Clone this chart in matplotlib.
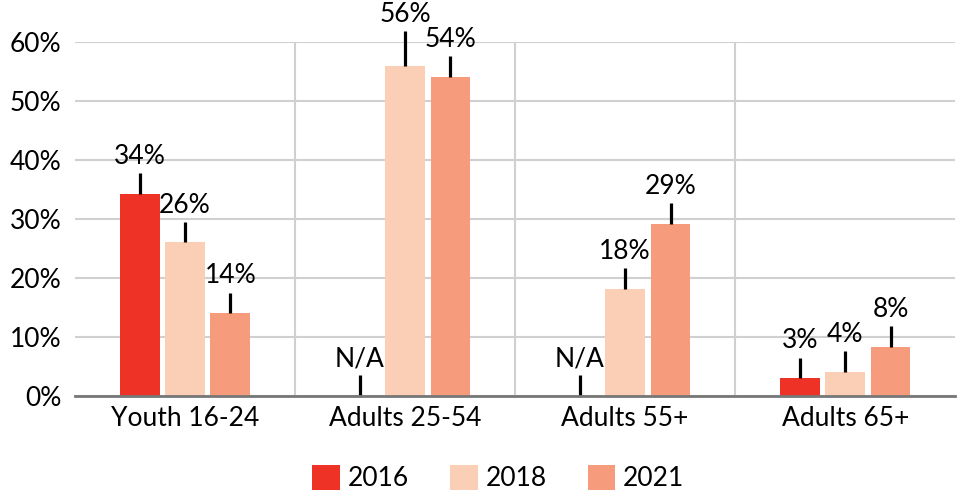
import matplotlib
matplotlib.use("Agg")
import matplotlib.pyplot as plt
import numpy as np
from matplotlib.patches import Patch

plt.rcParams['font.family'] = ['Lato', 'DejaVu Sans']

categories = ["Youth 16-24", "Adults 25-54", "Adults 55+", "Adults 65+"]
years = ["2016", "2018", "2021"]
v2016 = [34.2, None, None, 3.0]
v2018 = [26.0, 56.0, 18.1, 4.1]
v2021 = [14.0, 54.1, 29.2, 8.3]
err2016 = [3.5, 3.5, 3.5, 3.5]
err2018 = [3.5, 5.8, 3.5, 3.5]
err2021 = [3.5, 3.5, 3.5, 3.5]
yticks = [0, 10, 20, 30, 40, 50, 60]
colors = ["#EE3226", "#FACFB6", "#F79B7D"]

series = [v2016, v2018, v2021]
errs = [err2016, err2018, err2021]

fig = plt.figure(figsize=(9.62, 4.93), dpi=100)
ax = fig.add_axes([0.078, 0.197, 0.915, 0.718])

x = np.arange(len(categories))
width = 0.181
step = 0.206
fs = 19

for i, (vals, er, c) in enumerate(zip(series, errs, colors)):
    pos = x + (i - 1) * step
    for p, v, e in zip(pos, vals, er):
        h = 0 if v is None else v
        if v is not None:
            ax.bar(p, h, width=width, color=c, zorder=3)
        ax.plot([p, p], [h, h + e], color="black", lw=2.3, zorder=4,
                solid_capstyle="butt", clip_on=False)
        label = "N/A" if v is None else f"{round(v)}%"
        ax.annotate(label, (p, h + e), xytext=(0, 3), textcoords="offset points",
                    ha="center", va="bottom", fontsize=fs, color="black", zorder=5,
                    annotation_clip=False)

ax.set_xlim(-0.5, len(categories) - 0.5)
ax.set_ylim(0, 60)
ax.set_yticks(yticks)
ax.set_yticklabels([f"{t}%" for t in yticks], fontsize=fs)
ax.set_xticks(x)
ax.set_xticklabels(categories, fontsize=fs)
ax.tick_params(axis="both", length=0, colors="black")
ax.tick_params(axis="y", pad=10)
ax.tick_params(axis="x", pad=7)

ax.grid(axis="y", color="#d0d0d0", lw=1.5, zorder=0)
for b in [0.5, 1.5, 2.5]:
    ax.axvline(b, color="#d0d0d0", lw=1.5, zorder=0)

for s in ["top", "right", "left"]:
    ax.spines[s].set_visible(False)
ax.spines["bottom"].set_color("#777777")
ax.spines["bottom"].set_linewidth(2)
ax.spines["bottom"].set_zorder(6)

handles = [Patch(facecolor=c, edgecolor="none", label=y) for c, y in zip(colors, years)]
fig.legend(handles=handles, loc="center", bbox_to_anchor=(0.518, 0.03),
           ncol=3, frameon=False, fontsize=fs, handlelength=1.05,
           handleheight=1.05, handletextpad=0.3, columnspacing=1.55)

fig.savefig("out.png", dpi=100)
